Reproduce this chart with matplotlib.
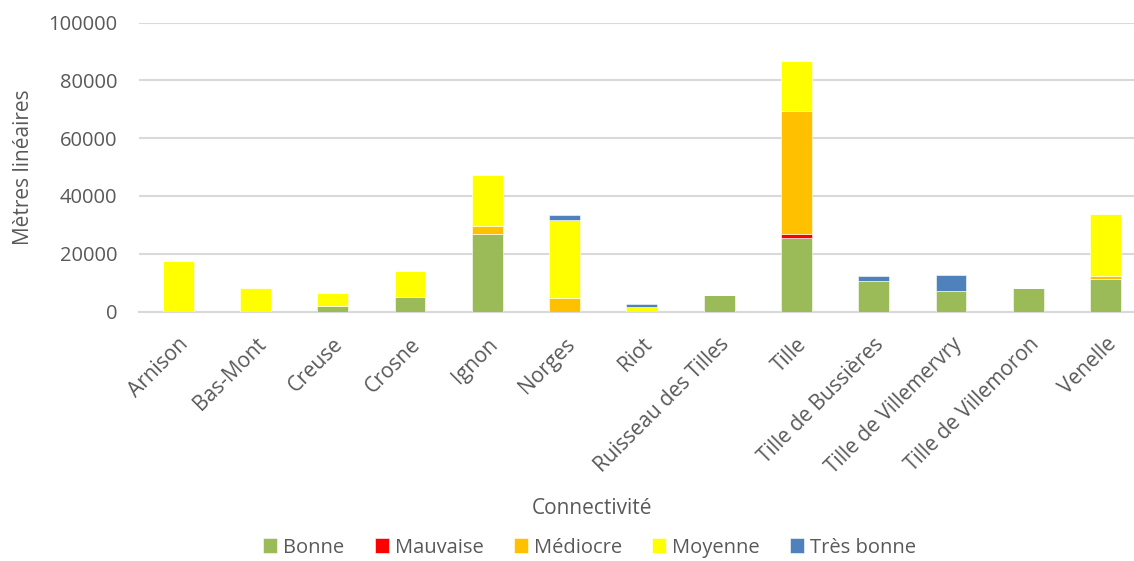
import matplotlib.pyplot as plt
import numpy as np

plt.rcParams['font.family'] = ['Open Sans', 'DejaVu Sans']

categories = ["Arnison", "Bas-Mont", "Creuse", "Crosne", "Ignon", "Norges", "Riot",
              "Ruisseau des Tilles", "Tille", "Tille de Bussières",
              "Tille de Villemervry", "Tille de Villemoron", "Venelle"]

bonne      = [0,     0,    2000, 5000, 27000, 0,     0,    5700, 25500, 10500, 7100, 8000, 11200]
mauvaise   = [0,     0,    0,    0,    0,     0,     0,    0,    1300,  0,     0,    0,    0]
mediocre   = [0,     0,    0,    0,    2700,  4700,  0,    0,    42600, 0,     0,    0,    1100]
moyenne    = [17500, 8000, 4300, 9000, 17500, 26900, 1400, 0,    17200, 0,     0,    0,    21400]
tres_bonne = [0,     0,    0,    0,    0,     1900,  1200, 0,    0,     1800,  5700, 0,    0]

series = [("Bonne", bonne, "#9BBB59"),
          ("Mauvaise", mauvaise, "#FF0000"),
          ("Médiocre", mediocre, "#FFC000"),
          ("Moyenne", moyenne, "#FFFF00"),
          ("Très bonne", tres_bonne, "#4F81BD")]

text_color = "#595959"
grid_color = "#D9D9D9"

fig = plt.figure(figsize=(11.34, 5.61), dpi=100)
ax = fig.add_axes([0.123, 0.4447, 0.886, 0.515])

x = np.arange(len(categories))
bottom = np.zeros(len(categories))
for name, vals, color in series:
    vals = np.array(vals, dtype=float)
    ax.bar(x, vals, width=0.4, bottom=bottom, color=color, label=name,
           edgecolor="white", linewidth=0.4, zorder=3)
    bottom += vals

ax.set_ylim(0, 100000)
ax.set_xlim(-0.5, len(categories) - 0.5)
ax.set_yticks(np.arange(0, 100001, 20000))
ax.yaxis.grid(True, color=grid_color, linewidth=1.5, zorder=0)
ax.set_axisbelow(True)
for s in ["top", "right", "left"]:
    ax.spines[s].set_visible(False)
ax.spines["bottom"].set_color(grid_color)
ax.spines["bottom"].set_linewidth(1.5)
ax.tick_params(axis="both", length=0, colors=text_color)
ax.tick_params(axis="y", pad=16, labelsize=14.5)
ax.tick_params(axis="x", pad=16, labelsize=15)
ax.set_xticks(x)
ax.set_xticklabels(categories, rotation=45, ha="right", rotation_mode="anchor")

ax.set_ylabel("Mètres linéaires", fontsize=15, color=text_color)
ax.yaxis.set_label_coords(-0.105, 0.5)
fig.text(0.522, 0.093, "Connectivité", fontsize=15, color=text_color, ha="center", va="center")

leg = fig.legend(loc="center", bbox_to_anchor=(0.52, 0.024), ncol=5, frameon=False,
                 fontsize=14.5, handlelength=0.7, handleheight=0.7, handletextpad=0.3,
                 columnspacing=1.5)
for t in leg.get_texts():
    t.set_color(text_color)

fig.savefig("out.png", dpi=100)
